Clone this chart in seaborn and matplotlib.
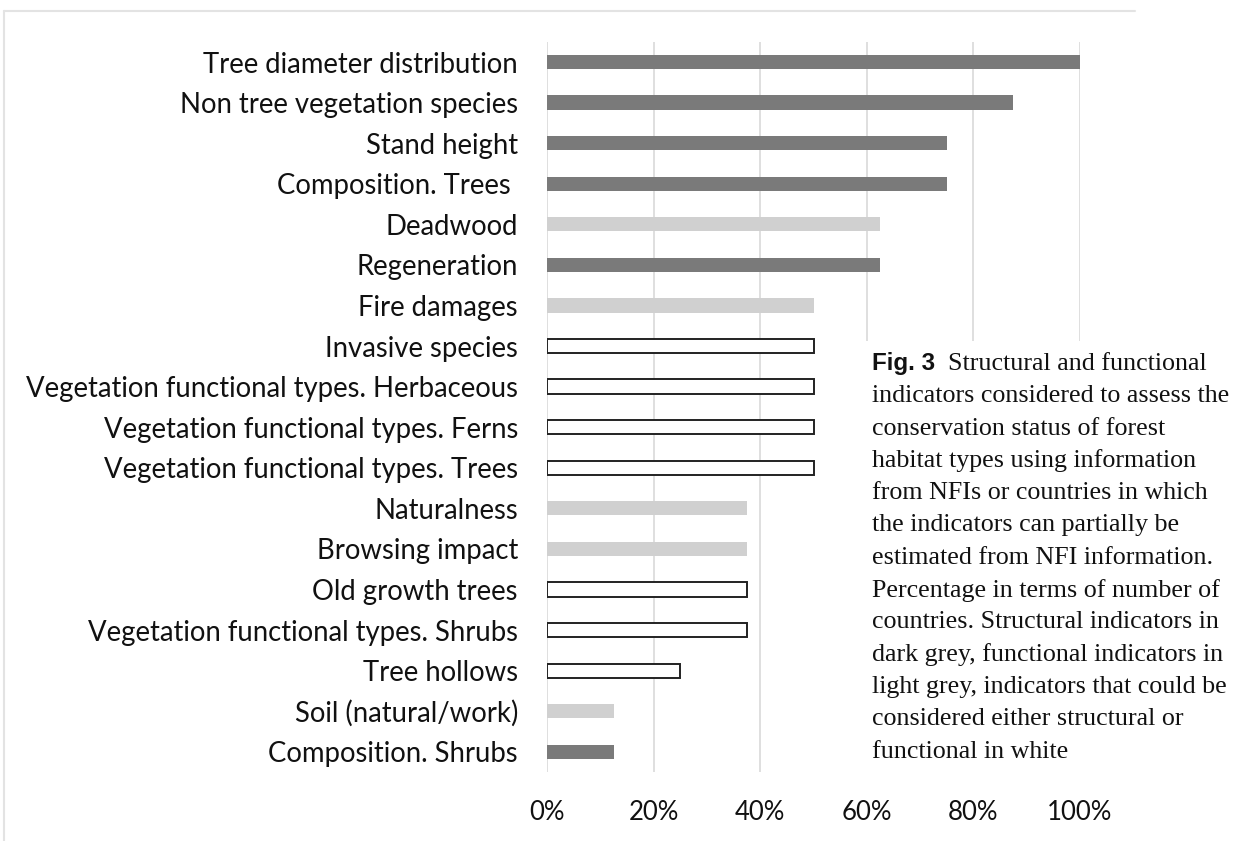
import matplotlib
matplotlib.use("Agg")
import matplotlib.pyplot as plt
from matplotlib.lines import Line2D
from matplotlib.patches import Rectangle
from matplotlib.ticker import FuncFormatter
import pandas as pd
import seaborn as sns

# indicators, top to bottom as they appear in the figure
indicators = [
    "Tree diameter distribution",
    "Non tree vegetation species",
    "Stand height",
    "Composition. Trees ",
    "Deadwood",
    "Regeneration",
    "Fire damages",
    "Invasive species",
    "Vegetation functional types. Herbaceous",
    "Vegetation functional types. Ferns",
    "Vegetation functional types. Trees",
    "Naturalness",
    "Browsing impact",
    "Old growth trees",
    "Vegetation functional types. Shrubs",
    "Tree hollows",
    "Soil (natural/work)",
    "Composition. Shrubs",
]
# share of countries (%)
shares = [100, 87.5, 75, 75, 62.5, 62.5, 50, 50, 50, 50, 50,
          37.5, 37.5, 37.5, 37.5, 25, 12.5, 12.5]
# S = structural, F = functional, B = both
kinds = ["S", "S", "S", "S", "F", "S", "F", "B", "B", "B", "B",
         "F", "F", "B", "B", "B", "F", "S"]
kind_colors = {"S": "#7a7a7a", "F": "#d0d0d0", "B": "#ffffff"}

caption = [
    "indicators considered to assess the",
    "conservation status of forest",
    "habitat types using information",
    "from NFIs or countries in which",
    "the indicators can partially be",
    "estimated from NFI information.",
    "Percentage in terms of number of",
    "countries. Structural indicators in",
    "dark grey, functional indicators in",
    "light grey, indicators that could be",
    "considered either structural or",
    "functional in white",
]

df = pd.DataFrame({"indicator": indicators, "share": shares, "kind": kinds})

sns.set_style("white")
plt.rcParams["font.family"] = ["Lato", "DejaVu Sans"]

fig = plt.figure(figsize=(12.36, 8.41), dpi=100)
ax = fig.add_axes([0.4426, 0.082, 0.4312, 0.8684])

sns.barplot(data=df, x="share", y="indicator", hue="kind", palette=kind_colors,
            dodge=False, legend=False, width=0.35, ax=ax, linewidth=0)

for p in ax.patches:
    r, g, b, _ = p.get_facecolor()
    if r > 0.95:
        p.set_edgecolor("#222222")
        p.set_linewidth(1.4)

ax.set_xlim(0, 100)
ax.set_ylim(17.5, -0.5)
ax.set_xticks([0, 20, 40, 60, 80, 100])
ax.xaxis.set_major_formatter(FuncFormatter(lambda v, _: f"{v:.0f}%"))
ax.grid(axis="x", color="#d9d9d9", linewidth=1.2)
ax.set_axisbelow(True)
for s in ax.spines.values():
    s.set_visible(False)
ax.tick_params(axis="y", length=0, pad=21, labelsize=19.8, labelcolor="#111111")
ax.tick_params(axis="x", length=0, pad=20, labelsize=18.5, labelcolor="#111111")
ax.set_xlabel("")
ax.set_ylabel("")

# white box the caption sits on (hides the grid behind it)
fig.add_artist(Rectangle((864 / 1236, 1 - 776 / 841), 1 - 864 / 1236, 435 / 841,
                         facecolor="white", edgecolor="none", zorder=2,
                         transform=fig.transFigure))

# caption block on the right
x0 = 872 / 1236
y_first = 1 - 364 / 841
step = 32.3 / 841
fig.text(x0, y_first, "Fig. 3", fontsize=17.4, fontweight="bold",
         family=["Liberation Sans"], va="center", color="#111111", zorder=3)
fig.text(948 / 1236, y_first, "Structural and functional", fontsize=18.7,
         family=["Liberation Serif"], va="center", color="#111111", zorder=3)
for i, line in enumerate(caption, start=1):
    fig.text(x0, y_first - i * step, line, fontsize=18.7,
             family=["Liberation Serif"], va="center", color="#111111", zorder=3)

# thin frame lines around the clipping
fig.add_artist(Line2D([4 / 1236, 1135 / 1236], [1 - 11 / 841, 1 - 11 / 841],
                      color="#e3e3e3", linewidth=1.5, transform=fig.transFigure))
fig.add_artist(Line2D([4 / 1236, 4 / 1236], [1 - 11 / 841, 0],
                      color="#e3e3e3", linewidth=1.5, transform=fig.transFigure))

fig.savefig("out.png", dpi=100)
